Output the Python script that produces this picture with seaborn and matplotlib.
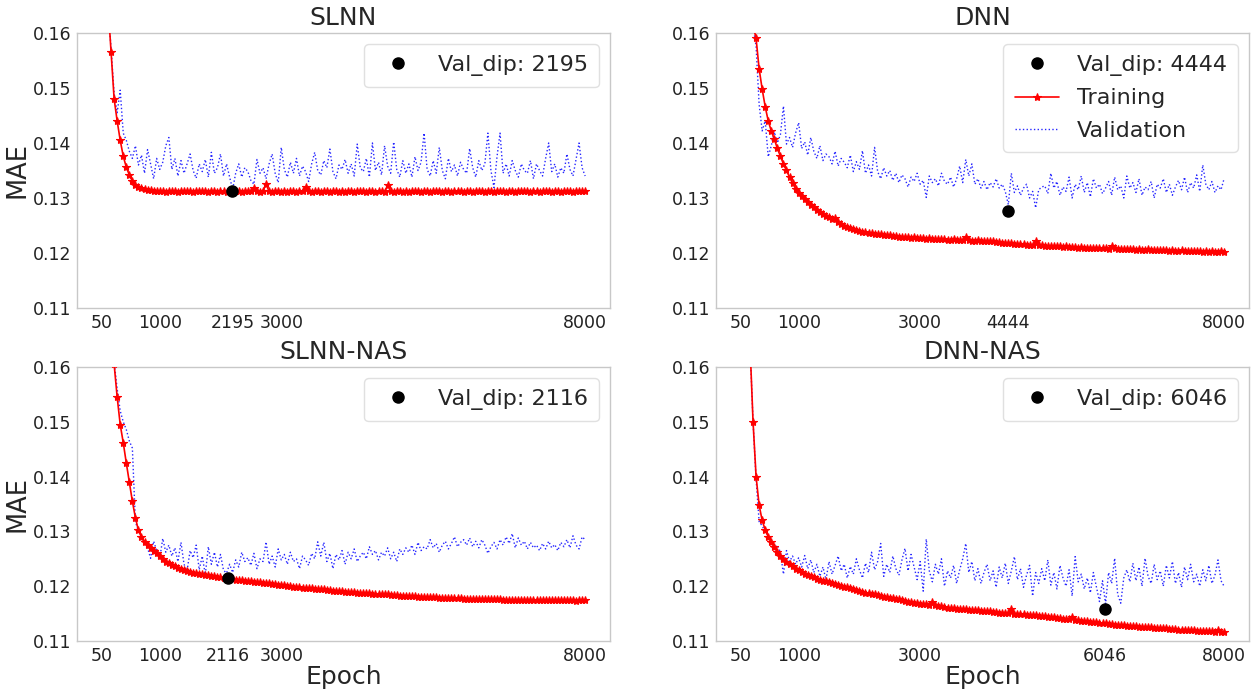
import numpy as np
import pandas as pd
import matplotlib
matplotlib.use("Agg")
import matplotlib.pyplot as plt
import seaborn as sns

# Epoch grid shared by every curve (one record every 50 epochs)
epochs = np.arange(50, 8001, 50)

# MAE values, stored in units of 1e-4
slnn_train = [
    1950, 1780, 1650, 1565, 1480, 1440, 1405, 1376, 1356, 1342, 1331, 1324, 1320, 1318, 1316, 1315, 1314, 1313, 1313, 1312,
    1312, 1311, 1312, 1313, 1312, 1311, 1312, 1312, 1313, 1312, 1311, 1312, 1312, 1313, 1312, 1311, 1312, 1312, 1311, 1312,
    1312, 1311, 1312, 1312, 1313, 1312, 1311, 1312, 1313, 1312, 1318, 1312, 1311, 1313, 1325, 1312, 1311, 1312, 1312, 1311,
    1312, 1311, 1312, 1312, 1311, 1312, 1313, 1320, 1312, 1311, 1312, 1312, 1311, 1312, 1313, 1311, 1312, 1312, 1311, 1312,
    1311, 1312, 1312, 1311, 1312, 1313, 1312, 1311, 1312, 1312, 1311, 1312, 1312, 1311, 1323, 1312, 1311, 1312, 1312, 1311,
    1312, 1311, 1312, 1313, 1312, 1311, 1312, 1312, 1311, 1312, 1313, 1312, 1311, 1312, 1312, 1311, 1312, 1313, 1312, 1311,
    1312, 1312, 1311, 1312, 1313, 1312, 1311, 1312, 1312, 1311, 1312, 1313, 1312, 1311, 1312, 1312, 1311, 1312, 1312, 1313,
    1312, 1311, 1312, 1312, 1311, 1312, 1313, 1312, 1311, 1312, 1312, 1311, 1312, 1313, 1312, 1311, 1312, 1312, 1313, 1312,
]
slnn_val = [
    1950, 1780, 1650, 1570, 1490, 1455, 1496, 1418, 1405, 1385, 1372, 1395, 1360, 1378, 1345, 1388, 1362, 1335, 1372, 1352,
    1365, 1395, 1410, 1352, 1372, 1340, 1368, 1345, 1362, 1380, 1350, 1336, 1362, 1348, 1370, 1338, 1383, 1345, 1355, 1380,
    1340, 1362, 1338, 1316, 1345, 1362, 1338, 1355, 1348, 1332, 1325, 1370, 1345, 1355, 1335, 1362, 1380, 1345, 1328, 1392,
    1352, 1338, 1365, 1345, 1372, 1340, 1358, 1348, 1330, 1362, 1383, 1350, 1342, 1368, 1355, 1389, 1348, 1335, 1360, 1352,
    1370, 1345, 1362, 1340, 1398, 1355, 1348, 1372, 1338, 1400, 1350, 1365, 1342, 1395, 1358, 1345, 1402, 1352, 1338, 1368,
    1345, 1362, 1338, 1375, 1350, 1365, 1418, 1352, 1340, 1368, 1345, 1392, 1350, 1335, 1372, 1348, 1360, 1340, 1365, 1352,
    1345, 1390, 1355, 1338, 1368, 1350, 1362, 1418, 1350, 1319, 1375, 1418, 1345, 1362, 1340, 1368, 1350, 1338, 1362, 1350,
    1345, 1368, 1335, 1362, 1350, 1340, 1372, 1400, 1348, 1362, 1338, 1355, 1345, 1380, 1352, 1340, 1370, 1400, 1355, 1340,
]

dnn_train = [
    1900, 1790, 1710, 1650, 1615, 1590, 1535, 1498, 1466, 1440, 1422, 1407, 1390, 1376, 1362, 1350, 1338, 1327, 1317, 1310,
    1304, 1298, 1292, 1287, 1283, 1279, 1275, 1271, 1268, 1265, 1262, 1264, 1256, 1252, 1250, 1247, 1245, 1243, 1242, 1240,
    1239, 1238, 1237, 1236, 1235, 1234, 1234, 1233, 1232, 1232, 1231, 1231, 1230, 1230, 1229, 1229, 1228, 1229, 1228, 1227,
    1227, 1226, 1227, 1226, 1225, 1225, 1226, 1225, 1224, 1224, 1225, 1224, 1223, 1224, 1229, 1223, 1222, 1222, 1223, 1222,
    1221, 1221, 1222, 1221, 1220, 1220, 1219, 1219, 1218, 1218, 1217, 1217, 1216, 1216, 1215, 1215, 1215, 1221, 1214, 1214,
    1213, 1213, 1212, 1213, 1212, 1212, 1211, 1212, 1211, 1211, 1211, 1210, 1211, 1210, 1210, 1210, 1209, 1210, 1209, 1209,
    1209, 1208, 1213, 1209, 1208, 1208, 1207, 1208, 1207, 1207, 1206, 1207, 1206, 1206, 1207, 1205, 1206, 1205, 1205, 1206,
    1205, 1204, 1205, 1204, 1204, 1205, 1203, 1204, 1203, 1203, 1204, 1203, 1202, 1203, 1202, 1203, 1202, 1202, 1203, 1202,
]
dnn_val = [
    1900, 1790, 1710, 1650, 1615, 1575, 1470, 1422, 1440, 1375, 1395, 1420, 1400, 1415, 1467, 1398, 1410, 1392, 1418, 1437,
    1390, 1402, 1378, 1410, 1385, 1372, 1395, 1368, 1380, 1375, 1362, 1385, 1358, 1372, 1365, 1355, 1378, 1348, 1366, 1352,
    1386, 1345, 1360, 1340, 1392, 1348, 1335, 1355, 1340, 1350, 1332, 1345, 1328, 1342, 1335, 1320, 1338, 1330, 1345, 1325,
    1332, 1301, 1340, 1328, 1335, 1322, 1345, 1330, 1325, 1338, 1320, 1335, 1358, 1328, 1370, 1340, 1362, 1325, 1335, 1318,
    1330, 1315, 1328, 1320, 1335, 1318, 1325, 1312, 1288, 1345, 1310, 1322, 1305, 1318, 1325, 1300, 1312, 1282, 1315, 1320,
    1322, 1308, 1345, 1318, 1330, 1305, 1320, 1312, 1338, 1300, 1325, 1315, 1340, 1310, 1328, 1302, 1335, 1318, 1325, 1308,
    1318, 1330, 1305, 1338, 1315, 1322, 1300, 1340, 1318, 1328, 1310, 1335, 1305, 1320, 1315, 1330, 1300, 1325, 1318, 1335,
    1310, 1325, 1305, 1320, 1332, 1315, 1338, 1310, 1328, 1318, 1342, 1312, 1360, 1325, 1315, 1330, 1310, 1322, 1315, 1335,
]

slnn_nas_train = [
    2000, 1850, 1730, 1650, 1605, 1545, 1495, 1462, 1425, 1390, 1355, 1325, 1302, 1290, 1281, 1275, 1269, 1264, 1260, 1255,
    1250, 1245, 1242, 1239, 1236, 1234, 1232, 1230, 1228, 1226, 1225, 1224, 1223, 1222, 1221, 1220, 1219, 1218, 1217, 1216,
    1215, 1214, 1213, 1213, 1212, 1211, 1211, 1210, 1209, 1209, 1208, 1207, 1207, 1206, 1206, 1205, 1204, 1204, 1203, 1203,
    1202, 1201, 1200, 1199, 1198, 1198, 1197, 1197, 1196, 1196, 1195, 1195, 1194, 1194, 1193, 1193, 1192, 1192, 1191, 1191,
    1190, 1190, 1189, 1189, 1188, 1188, 1188, 1187, 1187, 1186, 1186, 1186, 1185, 1185, 1185, 1184, 1184, 1184, 1183, 1183,
    1183, 1182, 1182, 1182, 1181, 1181, 1181, 1180, 1180, 1180, 1180, 1179, 1179, 1179, 1179, 1178, 1178, 1178, 1178, 1177,
    1177, 1177, 1177, 1177, 1177, 1176, 1176, 1176, 1176, 1176, 1176, 1176, 1175, 1175, 1175, 1175, 1175, 1175, 1175, 1175,
    1175, 1175, 1175, 1175, 1174, 1174, 1174, 1174, 1174, 1174, 1174, 1174, 1174, 1174, 1174, 1174, 1173, 1174, 1174, 1174,
]
slnn_nas_val = [
    2000, 1850, 1730, 1655, 1610, 1560, 1520, 1500, 1486, 1465, 1452, 1318, 1300, 1290, 1282, 1270, 1251, 1282, 1265, 1250,
    1287, 1262, 1275, 1255, 1270, 1245, 1280, 1240, 1228, 1265, 1252, 1275, 1230, 1255, 1221, 1272, 1240, 1262, 1235, 1258,
    1229, 1224, 1240, 1225, 1248, 1235, 1262, 1245, 1252, 1238, 1260, 1232, 1250, 1245, 1281, 1240, 1255, 1235, 1268, 1248,
    1258, 1240, 1262, 1245, 1250, 1232, 1255, 1248, 1238, 1260, 1250, 1281, 1255, 1280, 1245, 1260, 1232, 1258, 1248, 1265,
    1240, 1262, 1250, 1268, 1245, 1255, 1262, 1250, 1272, 1258, 1265, 1248, 1262, 1255, 1270, 1250, 1262, 1245, 1268, 1258,
    1270, 1262, 1275, 1258, 1280, 1265, 1272, 1268, 1285, 1270, 1278, 1262, 1275, 1282, 1268, 1278, 1290, 1272, 1280, 1285,
    1275, 1288, 1272, 1282, 1270, 1285, 1275, 1260, 1272, 1280, 1268, 1285, 1275, 1290, 1278, 1296, 1270, 1288, 1275, 1282,
    1268, 1280, 1270, 1275, 1265, 1278, 1268, 1282, 1270, 1276, 1265, 1280, 1272, 1285, 1270, 1292, 1275, 1268, 1290, 1285,
]

dnn_nas_train = [
    1950, 1820, 1720, 1640, 1500, 1400, 1348, 1320, 1303, 1290, 1280, 1271, 1263, 1256, 1250, 1245, 1240, 1236, 1232, 1229,
    1226, 1223, 1220, 1218, 1216, 1214, 1212, 1210, 1209, 1207, 1205, 1204, 1202, 1201, 1199, 1198, 1196, 1195, 1193, 1192,
    1190, 1188, 1187, 1186, 1185, 1184, 1183, 1181, 1180, 1179, 1178, 1177, 1176, 1174, 1173, 1172, 1171, 1170, 1169, 1168,
    1167, 1167, 1166, 1172, 1165, 1164, 1163, 1162, 1161, 1160, 1160, 1159, 1159, 1158, 1158, 1157, 1157, 1156, 1156, 1155,
    1155, 1154, 1154, 1153, 1153, 1152, 1152, 1151, 1151, 1158, 1150, 1150, 1149, 1149, 1148, 1148, 1147, 1147, 1146, 1146,
    1145, 1144, 1144, 1143, 1142, 1142, 1141, 1140, 1140, 1144, 1139, 1138, 1137, 1137, 1136, 1135, 1135, 1134, 1133, 1133,
    1132, 1131, 1131, 1130, 1130, 1129, 1129, 1128, 1128, 1127, 1127, 1126, 1126, 1125, 1125, 1125, 1124, 1124, 1123, 1123,
    1123, 1122, 1122, 1122, 1121, 1121, 1121, 1120, 1120, 1120, 1119, 1119, 1119, 1118, 1118, 1118, 1117, 1120, 1117, 1117,
]
dnn_nas_val = [
    1950, 1820, 1720, 1640, 1500, 1395, 1318, 1310, 1300, 1292, 1285, 1270, 1275, 1262, 1222, 1265, 1245, 1255, 1240, 1252,
    1235, 1256, 1232, 1248, 1225, 1240, 1218, 1235, 1212, 1245, 1222, 1238, 1255, 1228, 1240, 1215, 1236, 1222, 1250, 1230,
    1215, 1242, 1225, 1262, 1230, 1245, 1278, 1218, 1240, 1225, 1255, 1232, 1220, 1248, 1269, 1228, 1258, 1235, 1212, 1245,
    1191, 1286, 1228, 1208, 1240, 1222, 1250, 1200, 1228, 1215, 1238, 1205, 1230, 1250, 1278, 1225, 1245, 1210, 1232, 1205,
    1225, 1240, 1210, 1228, 1198, 1235, 1215, 1242, 1205, 1228, 1254, 1212, 1232, 1198, 1220, 1238, 1182, 1225, 1205, 1232,
    1210, 1248, 1202, 1225, 1195, 1238, 1215, 1200, 1230, 1182, 1254, 1208, 1222, 1195, 1215, 1188, 1225, 1198, 1172, 1210,
    1168, 1225, 1205, 1251, 1185, 1169, 1215, 1230, 1208, 1242, 1210, 1235, 1200, 1251, 1218, 1205, 1240, 1212, 1228, 1200,
    1238, 1215, 1245, 1205, 1225, 1198, 1235, 1212, 1240, 1208, 1222, 1200, 1230, 1210, 1238, 1205, 1220, 1248, 1210, 1200,
]

titles = ["SLNN", "DNN", "SLNN-NAS", "DNN-NAS"]
dip_epochs = [2195, 4444, 2116, 6046]
dip_values = [0.1312, 0.1277, 0.1215, 0.1158]
train_series = [slnn_train, dnn_train, slnn_nas_train, dnn_nas_train]
val_series = [slnn_val, dnn_val, slnn_nas_val, dnn_nas_val]
y_ticks = [0.11, 0.12, 0.13, 0.14, 0.15, 0.16]

sns.set_theme(style="white")
plt.rcParams["font.family"] = ["DejaVu Sans"]

fig = plt.figure(figsize=(12.55, 6.9), dpi=100)
positions = [
    [0.0614, 0.5536, 0.4247, 0.3986],
    [0.5705, 0.5536, 0.4247, 0.3986],
    [0.0614, 0.0710, 0.4247, 0.3971],
    [0.5705, 0.0710, 0.4247, 0.3971],
]

for k in range(4):
    ax = fig.add_axes(positions[k])
    df = pd.DataFrame({
        "Epoch": epochs,
        "Training": np.array(train_series[k]) / 1e4,
        "Validation": np.array(val_series[k]) / 1e4,
    })
    sns.lineplot(data=df, x="Epoch", y="Validation", ax=ax, color="blue",
                 linestyle=":", linewidth=1.0, alpha=0.85, label="Validation", zorder=2)
    sns.lineplot(data=df, x="Epoch", y="Training", ax=ax, color="red",
                 marker="*", markersize=6, markeredgecolor="red",
                 markeredgewidth=0.8, linewidth=1.2,
                 label="Training", zorder=3)
    ax.plot([dip_epochs[k]], [dip_values[k]], "o", color="black", markersize=8,
            linestyle="none", label=f"Val_dip: {dip_epochs[k]}", zorder=5)

    ax.set_xlim(-360, 8410)
    ax.set_ylim(0.11, 0.16)
    ax.set_yticks(y_ticks)
    ax.set_yticklabels([f"{t:.2f}" for t in y_ticks])
    xt = sorted([50, 1000, 3000, 8000, dip_epochs[k]])
    ax.set_xticks(xt)
    ax.set_xticklabels([str(t) for t in xt])
    ax.tick_params(axis="both", labelsize=12.5, length=0, pad=4, colors="#222222")
    for s in ax.spines.values():
        s.set_color("#c8c8c8")
        s.set_linewidth(1.0)
    ax.set_title(titles[k], fontsize=18, pad=6)
    ax.set_xlabel("Epoch" if k >= 2 else "", fontsize=18, labelpad=0)
    ax.set_ylabel("MAE" if k % 2 == 0 else "", fontsize=18.5, labelpad=2)

    handles, labels = ax.get_legend_handles_labels()
    hmap = dict(zip(labels, handles))
    keys = [f"Val_dip: {dip_epochs[k]}"]
    if k == 1:
        keys += ["Training", "Validation"]
    ax.legend([hmap[n] for n in keys], keys, loc="upper right", fontsize=16,
              frameon=True, framealpha=1.0, edgecolor="#e0e0e0",
              borderpad=0.5, handlelength=2.0, handletextpad=0.8,
              labelspacing=0.55)

fig.savefig("out.png", dpi=100)
